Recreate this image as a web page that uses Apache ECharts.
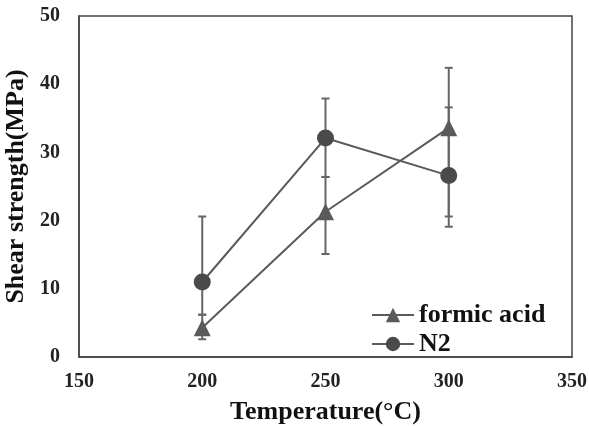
<!DOCTYPE html>
<html><head><meta charset="utf-8">
<script src="https://cdn.jsdelivr.net/npm/echarts@6/dist/echarts.min.js"></script>
<style>html,body{margin:0;padding:0;background:#fff}#c{width:589px;height:426px}</style>
</head><body><div id="c"></div>
<script>
const temps = [200, 250, 300];
const formicVals = [4.3, 21.3, 33.6];
const formicLow = [2.6, 15.1, 19.1];
const formicHigh = [6.2, 26.4, 42.4];
const n2Vals = [11.0, 32.1, 26.6];
const n2Low = [6.2, 26.4, 20.6];
const n2High = [20.6, 37.9, 36.6];
const xTicks = [150, 200, 250, 300, 350];
const yTicks = [0, 10, 20, 30, 40, 50];

const font = '"Liberation Serif", "Times New Roman", serif';
const chart = echarts.init(document.getElementById('c'), null, {renderer: 'canvas'});

function errData(low, high) {
  return temps.map((t, i) => [t, low[i], high[i]]);
}
function errRender(params, api) {
  const x = api.value(0);
  const lo = api.coord([x, api.value(1)]);
  const hi = api.coord([x, api.value(2)]);
  const w = 4;
  const style = {stroke: '#666', lineWidth: 2};
  return {type: 'group', children: [
    {type: 'line', shape: {x1: lo[0], y1: lo[1], x2: hi[0], y2: hi[1]}, style},
    {type: 'line', shape: {x1: lo[0]-w, y1: lo[1], x2: lo[0]+w, y2: lo[1]}, style},
    {type: 'line', shape: {x1: hi[0]-w, y1: hi[1], x2: hi[0]+w, y2: hi[1]}, style}
  ]};
}

chart.setOption({
  animation: false,
  backgroundColor: '#fff',
  grid: {left: 79, right: 17, top: 16, bottom: 69, show: true, borderColor: '#444', borderWidth: 1.5,
         containLabel: false, outerBoundsMode: 'none'},
  xAxis: {
    type: 'value', min: xTicks[0], max: xTicks[xTicks.length-1], interval: 50,
    axisLine: {show: true, lineStyle: {color: '#444', width: 1.5}},
    axisTick: {show: false}, splitLine: {show: false},
    axisLabel: {margin: 15, fontFamily: font, fontWeight: 'bold', fontSize: 20, color: '#222'},
    name: 'Temperature(\u00B0C)', nameLocation: 'middle', nameGap: 42,
    nameTextStyle: {fontFamily: font, fontWeight: 'bold', fontSize: 26, color: '#111'}
  },
  yAxis: {
    type: 'value', min: yTicks[0], max: yTicks[yTicks.length-1], interval: 10,
    axisLine: {show: true, lineStyle: {color: '#444', width: 1.5}},
    axisTick: {show: false}, splitLine: {show: false},
    axisLabel: {margin: 19, fontFamily: font, fontWeight: 'bold', fontSize: 20, color: '#222'},
    name: 'Shear strength(MPa)', nameLocation: 'middle', nameGap: 48,
    nameTextStyle: {fontFamily: font, fontWeight: 'bold', fontSize: 26, color: '#111'}
  },
  legend: {
    orient: 'vertical', left: 366, top: 297, itemGap: 3,
    itemWidth: 42, itemHeight: 18,
    textStyle: {fontFamily: font, fontWeight: 'bold', fontSize: 26, color: '#111'},
    data: ['formic acid', 'N2']
  },
  series: [
    {type: 'custom', renderItem: errRender, data: errData(formicLow, formicHigh), encode: {x: 0, y: [1, 2]}, z: 1, silent: true},
    {type: 'custom', renderItem: errRender, data: errData(n2Low, n2High), encode: {x: 0, y: [1, 2]}, z: 1, silent: true},
    {name: 'formic acid', type: 'line', data: temps.map((t, i) => [t, formicVals[i]]),
     symbol: 'triangle', symbolSize: 17, itemStyle: {color: '#5a5a5a'},
     lineStyle: {color: '#5a5a5a', width: 2}, z: 3},
    {name: 'N2', type: 'line', data: temps.map((t, i) => [t, n2Vals[i]]),
     symbol: 'circle', symbolSize: 17, itemStyle: {color: '#4a4a4a'},
     lineStyle: {color: '#5a5a5a', width: 2}, z: 3}
  ]
});
</script></body></html>
